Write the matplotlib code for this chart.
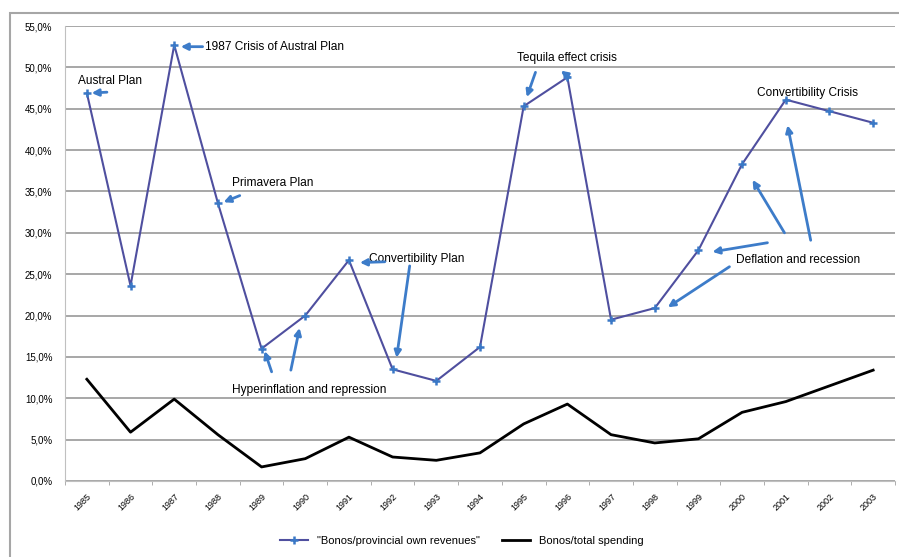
import numpy as np
import matplotlib.pyplot as plt
from matplotlib.patches import Rectangle

plt.rcParams['font.family'] = ['Liberation Sans', 'DejaVu Sans']

years = [str(y) for y in range(1985, 2004)]

# bonos as share of provincial own revenues
bonos_revenues = [46.9, 23.6, 52.7, 33.6, 16.0, 20.0, 26.7, 13.5, 12.1, 16.2,
                  45.3, 48.8, 19.5, 20.9, 27.9, 38.3, 46.1, 44.7, 43.3]
# bonos as share of total spending
bonos_spending = [12.3, 5.9, 9.9, 5.6, 1.7, 2.7, 5.3, 2.9, 2.5, 3.4,
                  6.9, 9.3, 5.6, 4.6, 5.1, 8.3, 9.6, 11.5, 13.4]

yticks = np.arange(0, 56, 5)

# (text, x, y) in data units
labels = [
    ("Austral Plan", -0.21, 48.4),
    ("1987 Crisis of Austral Plan", 2.70, 52.5),
    ("Primavera Plan", 3.32, 36.0),
    ("Convertibility Plan", 6.45, 26.8),
    ("Hyperinflation and repression", 3.32, 11.0),
    ("Tequila effect crisis", 9.84, 51.1),
    ("Convertibility Crisis", 15.33, 46.9),
    ("Deflation and recession", 14.87, 26.7),
]
# (tail x, tail y, head x, head y)
arrows = [
    (0.46, 47.0, 0.11, 46.9),
    (2.65, 52.5, 2.15, 52.5),
    (3.50, 34.5, 3.13, 33.7),
    (6.82, 26.5, 6.25, 26.4),
    (7.39, 26.0, 7.09, 14.9),
    (4.23, 13.2, 4.07, 15.7),
    (4.67, 13.4, 4.87, 18.5),
    (10.27, 49.4, 10.07, 46.4),
    (11.05, 48.8, 10.85, 49.6),
    (15.58, 28.8, 14.32, 27.7),
    (14.71, 25.9, 13.30, 21.0),
    (15.97, 30.0, 15.24, 36.4),
    (16.57, 29.1, 16.04, 43.0),
]

fig = plt.figure(figsize=(8.99, 5.57), dpi=100)
fig.patches.append(Rectangle((10 / 899, -0.05), 1.0, 1 - 13 / 557 + 0.05,
                             transform=fig.transFigure, fill=False,
                             edgecolor='#a6a6a6', linewidth=1.5))
ax = fig.add_axes([65 / 899, 76 / 557, 830 / 899, 455 / 557])

x = np.arange(len(years))
ax.plot(x, bonos_revenues, color='#4f4f9f', linewidth=1.5, marker='+',
        markersize=6, markeredgewidth=1.8, markeredgecolor='#3a78c6',
        label='"Bonos/provincial own revenues"', zorder=3)
ax.plot(x, bonos_spending, color='black', linewidth=2,
        label='Bonos/total spending', zorder=3)

for t, tx, ty in labels:
    ax.text(tx, ty, t, fontsize=8.6, va='center', ha='left', color='black')
for x0, y0, x1, y1 in arrows:
    ax.annotate('', xy=(x1, y1), xytext=(x0, y0),
                arrowprops=dict(arrowstyle='-|>', color='#3d7cc9', lw=2,
                                mutation_scale=10, shrinkA=0, shrinkB=0))

ax.set_xlim(-0.5, len(years) - 0.5)
ax.set_ylim(0, 55)
ax.set_yticks(yticks)
ax.set_yticklabels([f"{v:.1f}%".replace('.', ',') for v in yticks], fontsize=7)
ax.set_xticks(x)
ax.set_xticklabels(years, rotation=45, ha='right', rotation_mode='anchor',
                   fontsize=6.5)
ax.set_xticks(np.arange(-0.5, len(years), 1), minor=True)
ax.tick_params(axis='x', which='major', length=0, pad=8)
ax.tick_params(axis='x', which='minor', length=3, color='#a0a0a0')
ax.tick_params(axis='y', length=0, pad=9)
ax.grid(axis='y', color='#a0a0a0', linewidth=1.3)
ax.set_axisbelow(True)
for s in ['top', 'right']:
    ax.spines[s].set_visible(False)
ax.spines['left'].set_color('#c0c0c0')
ax.spines['bottom'].set_color('#c0c0c0')

fig.legend(loc='center', bbox_to_anchor=(462 / 899, 1 - 541 / 557), ncol=2,
           frameon=False, fontsize=8, handlelength=2.5, columnspacing=2.0)

fig.savefig('out.png', dpi=100)
